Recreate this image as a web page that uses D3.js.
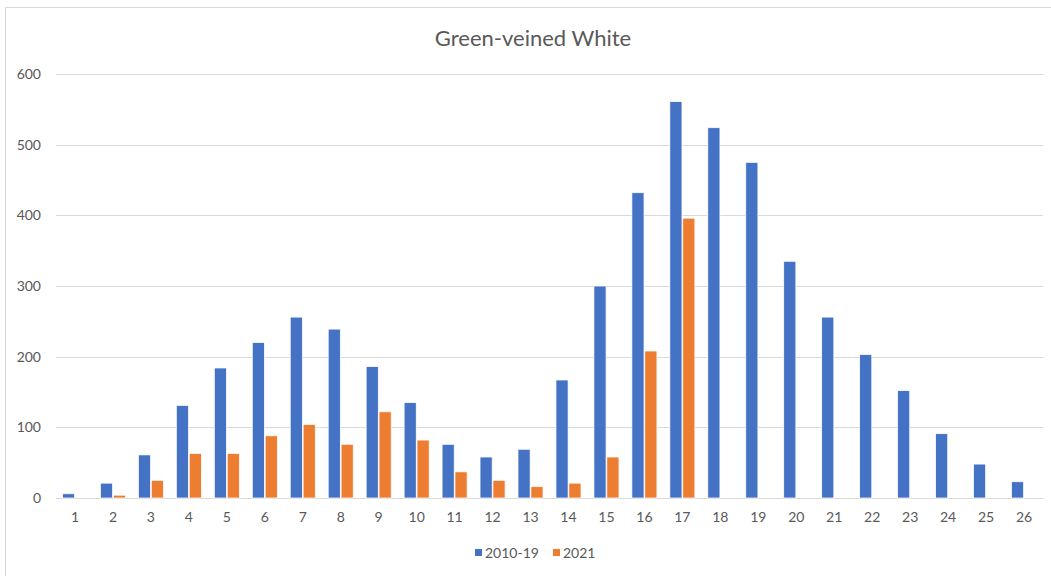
<!DOCTYPE html>
<html><head><meta charset="utf-8">
<script src="https://cdn.jsdelivr.net/npm/d3@7"></script>
<style>html,body{margin:0;padding:0;background:#fff;}svg{display:block;font-family:Lato,"Open Sans",sans-serif;}</style>
</head><body>
<svg id="chart" width="1051" height="576"></svg>
<script>
const categories = ["1","2","3","4","5","6","7","8","9","10","11","12","13","14","15","16","17","18","19","20","21","22","23","24","25","26"];
const series2010_19 = [6,21,61,131,184,220,256,239,186,135,76,58,69,167,300,432,561,524,475,335,256,203,152,91,48,23];
const series2021 = [0,4,25,63,63,88,104,76,122,82,37,25,16,21,58,208,396,null,null,null,null,null,null,null,null,null];
const yTicks = [0,100,200,300,400,500,600];
const seriesNames = ["2010-19","2021"];
const colors = ["#4472C4","#ED7D31"];

const svg = d3.select("#chart");
const W = 1051, H = 576;
const plot = {left:56, right:1043, top:74, bottom:498};

svg.append("rect").attr("x",5.5).attr("y",7.5).attr("width",W).attr("height",H)
  .attr("fill","#fff").attr("stroke","#d9d9d9").attr("stroke-width",1);

const x = d3.scaleBand().domain(categories).range([plot.left, plot.right]).paddingInner(0).paddingOuter(0);
const x1 = d3.scaleBand().domain(seriesNames).range([0, x.bandwidth()]).paddingOuter(0.5).paddingInner(0.06);
const y = d3.scaleLinear().domain([0,600]).range([plot.bottom, plot.top]);

// gridlines
svg.append("g").selectAll("line").data(yTicks).join("line")
  .attr("x1",plot.left).attr("x2",plot.right)
  .attr("y1",d=>Math.round(y(d))+0.5).attr("y2",d=>Math.round(y(d))+0.5)
  .attr("stroke","#d9d9d9").attr("stroke-width",1);

// y labels
const yAxis = d3.axisLeft(y).tickValues(yTicks).tickSize(0).tickPadding(0);
const gy = svg.append("g").attr("transform","translate(41,0)").call(yAxis);
gy.select(".domain").remove();
gy.selectAll("text").attr("fill","#595959").style("font-size","14px").style("font-family","Lato,'Open Sans',sans-serif");

// x labels
const xAxis = d3.axisBottom(x).tickSize(0).tickPadding(14);
const gx = svg.append("g").attr("transform",`translate(0,${plot.bottom})`).call(xAxis);
gx.select(".domain").remove();
gx.selectAll("text").attr("fill","#595959").style("font-size","14px").style("font-family","Lato,'Open Sans',sans-serif");

// bars
const data = categories.map((c,i)=>({c, vals:[series2010_19[i], series2021[i]]}));
const groups = svg.append("g").selectAll("g").data(data).join("g")
  .attr("transform",d=>`translate(${x(d.c)},0)`);
groups.selectAll("rect").data(d=>d.vals.map((v,j)=>({v,j})).filter(e=>e.v!=null && e.v>0)).join("rect")
  .attr("x",e=>x1(seriesNames[e.j]))
  .attr("width",x1.bandwidth())
  .attr("y",e=>y(e.v))
  .attr("height",e=>y(0)-y(e.v))
  .attr("fill",e=>colors[e.j])
  .attr("stroke","#fff").attr("stroke-width",0.75);

// title
svg.append("text").attr("x",533).attr("y",46).attr("text-anchor","middle")
  .attr("fill","#595959").style("font-size","22px").text("Green-veined White");

// legend
const legend = svg.append("g");
const legItems = [{name:seriesNames[0],color:colors[0],x:475},{name:seriesNames[1],color:colors[1],x:553}];
legItems.forEach(it=>{
  legend.append("rect").attr("x",it.x).attr("y",549).attr("width",7).attr("height",7).attr("fill",it.color);
  legend.append("text").attr("x",it.x+10).attr("y",558).attr("fill","#595959").style("font-size","14px").text(it.name);
});
</script>
</body></html>
